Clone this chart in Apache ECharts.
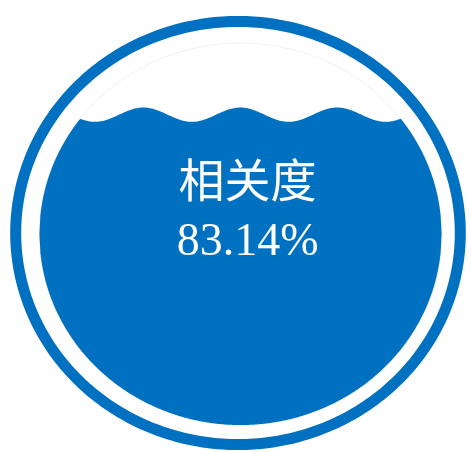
<!DOCTYPE html>
<html>
<head>
<meta charset="utf-8">
<script src="https://cdn.jsdelivr.net/npm/echarts@6/dist/echarts.min.js"></script>
<style>
html,body{margin:0;padding:0;background:#fff;}
#chart{width:469px;height:452px;}
</style>
</head>
<body>
<div id="chart"></div>
<script>
// ---- data ----
const seriesNames = ['相关度'];
const seriesValues = [0.8314];

// ---- chart ----
const BLUE = '#0070c0';
const chart = echarts.init(document.getElementById('chart'));

function ellipsePts(api, cx, cy, rx, ry, n) {
  const pts = [];
  for (let i = 0; i <= n; i++) {
    const a = (i / n) * Math.PI * 2;
    pts.push(api.coord([cx + rx * Math.cos(a), cy + ry * Math.sin(a)]));
  }
  return pts;
}

function renderItem(params, api) {
  const value = api.value(0);
  const name = seriesNames[params.dataIndex];
  // geometry in axis units
  const ringR = 0.975;
  const icx = 0.011, icy = -0.005, irx = 0.882, iry = 0.880;
  const amp = 0.033, waveLen = 0.425, crestX = 0.01;
  const level = icy - iry + 2 * iry * value; // wave crest line
  const waveY = x => level - amp + amp * Math.cos(2 * Math.PI * (x - crestX) / waveLen);

  const n = 400;
  const top = [], bottom = [];
  for (let i = 0; i <= n; i++) {
    const x = icx - irx + (2 * irx * i) / n;
    const t = (x - icx) / irx;
    const h = iry * Math.sqrt(Math.max(0, 1 - t * t));
    const yTop = Math.min(waveY(x), icy + h);
    const yBot = icy - h;
    if (yTop > yBot) {
      top.push(api.coord([x, yTop]));
      bottom.push(api.coord([x, yBot]));
    } else {
      top.push(api.coord([x, yBot]));
      bottom.push(api.coord([x, yBot]));
    }
  }
  const fillPts = top.concat(bottom.reverse());

  return {
    type: 'group',
    children: [
      {
        type: 'polygon',
        shape: { points: ellipsePts(api, 0, 0, ringR, ringR, 360) },
        style: { fill: 'none', stroke: BLUE, lineWidth: 11 }
      },
      {
        type: 'polygon',
        shape: { points: ellipsePts(api, icx, icy, irx, iry, 360) },
        style: { fill: 'none', stroke: 'rgba(200,200,200,0.25)', lineWidth: 1 }
      },
      {
        type: 'polygon',
        shape: { points: fillPts },
        style: { fill: BLUE }
      },
      {
        type: 'text',
        x: api.coord([0.042, 0.088])[0],
        y: api.coord([0.042, 0.088])[1],
        style: {
          text: name + '\n' + (value * 100).toFixed(2) + '%',
          fill: '#ffffff',
          fontSize: 46,
          lineHeight: 58,
          fontFamily: '"Liberation Serif", "Noto Sans CJK SC", serif',
          align: 'center',
          verticalAlign: 'middle'
        }
      }
    ]
  };
}

chart.setOption({
  animation: false,
  grid: { left: 10, right: 3, top: 16, bottom: 2 },
  xAxis: { type: 'value', min: -1, max: 1, show: false },
  yAxis: { type: 'value', min: -1, max: 1, show: false },
  series: [{
    type: 'custom',
    renderItem: renderItem,
    clip: false,
    data: seriesValues.map(v => [v])
  }]
});
</script>
</body>
</html>
